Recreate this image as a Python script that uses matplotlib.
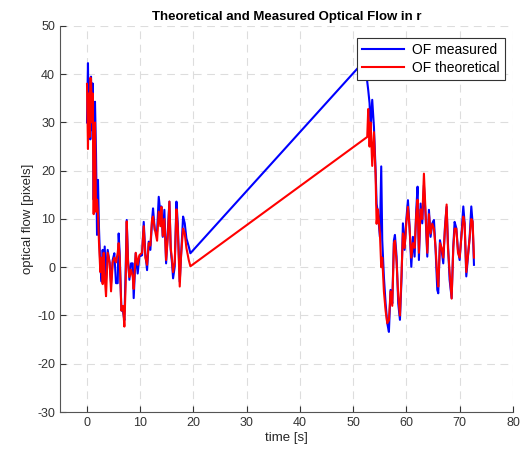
import numpy as np
import matplotlib.pyplot as plt

plt.rcParams['font.family'] = ['Liberation Sans', 'DejaVu Sans']
plt.rcParams['axes.unicode_minus'] = False

# Segment 1 (time [s])
t1 = [0.07, 0.25, 0.38, 0.57, 0.69, 0.82, 1.01, 1.13, 1.32, 1.45, 1.57, 1.76, 1.95, 2.13, 2.32,
      2.57, 2.82, 3.01, 3.20, 3.39, 3.64, 3.95, 4.32, 4.58, 4.89, 5.20, 5.51, 5.83, 6.01, 6.20,
      6.52, 6.83, 7.08, 7.33, 7.52, 7.77, 8.02, 8.33, 8.65, 8.83, 9.21, 9.58, 9.90, 10.40, 10.71,
      11.02, 11.34, 11.65, 11.96, 12.28, 12.46, 12.78, 13.22, 13.53, 13.84, 14.03, 14.28, 14.59,
      14.91, 15.22, 15.53, 15.78, 16.03, 16.22, 16.53, 16.85, 17.10, 17.28, 17.47, 17.72, 18.10,
      18.41, 18.72, 19.16, 19.47]
meas1 = [30, 42.3, 30, 38.8, 26.5, 39.5, 28.4, 38.1, 14, 30, 34.3, 23.6, 6.7, 18.1, 8,
         0.1, -3.0, 3.6, -3.0, 4.3, -2.6, 3.6, 0.8, -3.3, 1.5, 2.9, -3.3, -3.3, 7.0, 2.9,
         -8.9, -9.2, -11, 0, 9.8, 1.5, -2.6, 0.8, 0.8, -6.4, 2.9, -1.3, 2.2, 2.5, 9.4,
         2.9, -0.6, 5.3, 3.6, 9.8, 12.2, 7.7, 7.4, 14.6, 11.2, 12.6, 6.3, 11.9,
         0.8, 7.4, 13.6, 3.6, 0.8, -2.3, 0.1, 13.6, 9.1, 2.9, -3.0, 2.2, 10.5,
         9.1, 6.0, 4.3, 2.9]
theo1 = [38, 24.5, 36, 27, 39.3, 39, 30, 36, 11, 22, 30, 11.5, 14, 11, 5,
         -1, 2, -3.5, 3, -2, -6, 3, 1, -5, 1, 2, 1, 3, 5, 2,
         -9, -8, -12.3, -3, 9.5, 1, -2, -0.5, -2, -4.5, 3, 0.5, 2.5, 3, 8.5,
         2, 0.5, 5, 4.5, 10, 10.5, 8, 5.5, 11.5, 8.5, 12.5, 6.5, 10,
         1.5, 6, 13.6, 4, 1.5, -1, 1, 12, 8, 2, -4, 2.5, 8,
         7, 4, 1.5, 0.2]

# Segment 2
t2 = [52.65, 52.84, 53.09, 53.28, 53.59, 53.91, 54.22, 54.41, 54.66, 55.03, 55.28, 55.47, 55.78,
      56.10, 56.41, 56.72, 57.03, 57.35, 57.66, 57.85, 58.16, 58.47, 58.79, 59.10, 59.35, 59.66,
      59.98, 60.29, 60.60, 60.92, 61.23, 61.54, 61.85, 62.10, 62.35, 62.67, 62.98, 63.29, 63.61,
      63.92, 64.23, 64.54, 64.86, 65.17, 65.48, 65.80, 65.98, 66.30, 66.61, 66.92, 67.24, 67.55,
      67.80, 68.11, 68.49, 68.80, 69.05, 69.37, 69.68, 69.99, 70.30, 70.68, 70.93, 71.24, 71.56,
      71.87, 72.18, 72.43, 72.68]
meas2 = [38.5, 36.7, 34.0, 28.8, 34.7, 29.1, 20.2, 13.2, 11.2, 6.3, 20.9, 5.6, -2.0,
         -7.5, -11.6, -13.4, -4.7, -7.5, 5.6, 6.7, 2.2, -7.5, -10.9, -2.0, 9.1, 3.6,
         9.8, 13.9, 8.4, 0.1, 6.3, 2.2, 11.9, 16.7, 1.5, 13.2, 9.1, 17, 10.5,
         2.2, 11.9, 6.3, 9.1, 9.8, 3.6, -4.7, -5.4, 5.6, 3.6, 0.8, 8.4, 12.5,
         5.0, -2.6, -6.4, 4.3, 9.4, 8.1, 3.6, 1.5, 6.3, 12.6, 9.1, -1.9, 2.2,
         6.3, 12.6, 9.1, 0.5]
theo2 = [27, 32.8, 25, 30, 21, 28, 19, 9, 12, 7, 0, 2, -5,
         -9, -11.6, -11, -5, -8, 5, 5.5, 1, -6, -10, -1, 7, 4,
         9, 12.5, 8, 2, 5, 4, 11, 14, 3, 12, 10, 19.4, 11,
         3, 11, 7, 9, 8, 4, -2, -4, 5, 4, 2, 8, 13,
         4, -1, -6.5, 4, 8, 8, 3, 2, 6, 10.5, 9, -1, 2.5,
         6, 10, 9.5, 2]

# measured signal has one extra sample at the end of the gap
t_meas = t1 + [52.3] + t2
of_meas = meas1 + [43] + meas2
t_theo = t1 + t2
of_theo = theo1 + theo2

fig = plt.figure(figsize=(5.29, 4.55), dpi=100)
ax = fig.add_axes([0.1134, 0.0945, 0.8563, 0.8484])

ax.plot(t_meas, of_meas, color='#0000ff', lw=1.5, label='OF measured')
ax.plot(t_theo, of_theo, color='#ff0000', lw=1.5, label='OF theoretical')

ax.set_xlim(-5, 80)
ax.set_ylim(-30, 50)
ax.set_xticks(np.arange(0, 81, 10))
ax.set_yticks(np.arange(-30, 51, 10))
ax.grid(True, color='#dddddd', linestyle=(0, (7, 5)), lw=0.8)
ax.set_axisbelow(True)
ax.tick_params(direction='in', labelsize=9, colors='#333333', length=4)
for s in ['top', 'right']:
    ax.spines[s].set_visible(False)
for s in ['left', 'bottom']:
    ax.spines[s].set_color('#555555')

ax.set_xlabel('time [s]', fontsize=9.5, color='#262626', labelpad=2)
ax.set_ylabel('optical flow [pixels]', fontsize=9.5, color='#262626', labelpad=2)
ax.set_title('Theoretical and Measured Optical Flow in r', fontsize=9.5, fontweight='bold', pad=4)

leg = ax.legend(loc='upper right', bbox_to_anchor=(0.982, 0.969), fontsize=10, handlelength=3.0,
                fancybox=False, framealpha=1, edgecolor='#333333', borderpad=0.35,
                labelspacing=0.3, handletextpad=0.6, borderaxespad=0)
leg.get_frame().set_linewidth(0.8)

fig.savefig('out.png', dpi=100)
